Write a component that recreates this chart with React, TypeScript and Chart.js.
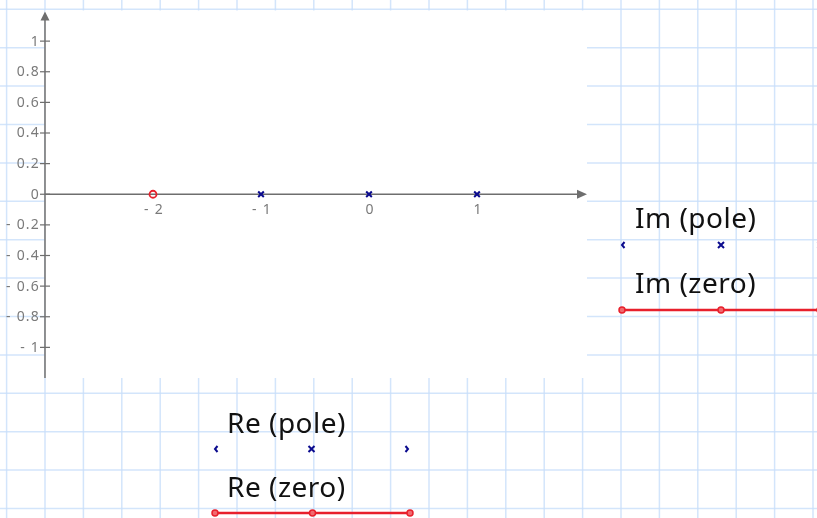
import React, { useEffect, useRef } from "react";
import { Chart, registerables } from "chart.js";

Chart.register(...registerables);

// ---- data ----
const poleRe = [-1, 0, 1];
const poleIm = [0, 0, 0];
const zeroRe = [-2];
const zeroIm = [0];
const xTickValues = [-2, -1, 0, 1];
const yTickValues = [-1, -0.8, -0.6, -0.4, -0.2, 0, 0.2, 0.4, 0.6, 0.8, 1];
const legendLabels = ["Im (pole)", "Im (zero)", "Re (pole)", "Re (zero)"];

const POLE_COLOR = "#0b0b8e";
const ZERO_COLOR = "#e8202c";
const AXIS_COLOR = "#6e6e6e";
const LABEL_COLOR = "#7a7a7a";
const GRID_COLOR = "rgba(200,222,250,0.8)";

const fmt = (v: number) => {
  const r = Math.round(v * 10) / 10;
  if (r === 0) return "0";
  const s = String(Math.abs(r));
  return r < 0 ? "- " + s : s;
};

const W = 817;
const H = 518;

const decorPlugin = {
  id: "decor",
  beforeDraw(chart: any) {
    const { ctx, chartArea } = chart;
    ctx.save();
    ctx.fillStyle = "#ffffff";
    ctx.fillRect(0, 0, W, H);
    // background paper grid
    ctx.strokeStyle = GRID_COLOR;
    ctx.lineWidth = 1.5;
    const step = 38.4;
    for (let x = 6.6; x < W + 1; x += step) {
      ctx.beginPath();
      ctx.moveTo(x, 0);
      ctx.lineTo(x, H);
      ctx.stroke();
    }
    for (let y = 9.3; y < H + 1; y += step) {
      ctx.beginPath();
      ctx.moveTo(0, y);
      ctx.lineTo(W, y);
      ctx.stroke();
    }
    // white plot panel
    ctx.fillStyle = "#ffffff";
    ctx.fillRect(chartArea.left, chartArea.top, chartArea.right - chartArea.left + 2, chartArea.bottom - chartArea.top);
    ctx.restore();
  },
  beforeDatasetsDraw(chart: any) {
    const { ctx, chartArea, scales } = chart;
    const xs = scales.x;
    const ys = scales.y;
    const x0 = xs.getPixelForValue(xs.min);
    const y0 = ys.getPixelForValue(0);
    ctx.save();
    ctx.strokeStyle = AXIS_COLOR;
    ctx.fillStyle = AXIS_COLOR;
    ctx.lineWidth = 1.5;
    // y axis
    ctx.beginPath();
    ctx.moveTo(x0, chartArea.bottom);
    ctx.lineTo(x0, chartArea.top + 8);
    ctx.stroke();
    ctx.beginPath();
    ctx.moveTo(x0, chartArea.top + 1);
    ctx.lineTo(x0 - 4.5, chartArea.top + 10);
    ctx.lineTo(x0 + 4.5, chartArea.top + 10);
    ctx.closePath();
    ctx.fill();
    // x axis
    const xr = chartArea.right + 2;
    ctx.beginPath();
    ctx.moveTo(x0, y0);
    ctx.lineTo(xr - 8, y0);
    ctx.stroke();
    ctx.beginPath();
    ctx.moveTo(xr, y0);
    ctx.lineTo(xr - 10, y0 - 4.5);
    ctx.lineTo(xr - 10, y0 + 4.5);
    ctx.closePath();
    ctx.fill();
    // y ticks + labels
    ctx.font = "14px 'Noto Sans', sans-serif";
    (ctx as any).letterSpacing = "1.2px";
    ctx.fillStyle = LABEL_COLOR;
    ctx.textAlign = "right";
    ctx.textBaseline = "middle";
    ctx.lineWidth = 1.2;
    for (const v of yTickValues) {
      const py = ys.getPixelForValue(v);
      ctx.beginPath();
      ctx.moveTo(x0 - 5, py);
      ctx.lineTo(x0 + 5, py);
      ctx.stroke();
      ctx.fillText(fmt(v), x0 - 5, py + 0.5);
    }
    // x labels
    ctx.textAlign = "center";
    ctx.textBaseline = "middle";
    for (const v of xTickValues) {
      const px = xs.getPixelForValue(v);
      ctx.fillText(fmt(v), px + 1, y0 + 16);
    }
    (ctx as any).letterSpacing = "0px";
    ctx.restore();
  },
  afterDraw(chart: any) {
    const { ctx } = chart;
    ctx.save();
    ctx.font = "28px 'Noto Sans', sans-serif";
    (ctx as any).letterSpacing = "0.5px";
    ctx.fillStyle = "#111111";
    ctx.textAlign = "left";
    ctx.textBaseline = "alphabetic";

    const drawPoleSample = (xa: number, xb: number, y: number) => {
      ctx.strokeStyle = POLE_COLOR;
      ctx.lineWidth = 2;
      const xm = (xa + xb) / 2;
      ctx.beginPath();
      ctx.moveTo(xa + 2.5, y - 3);
      ctx.lineTo(xa, y);
      ctx.lineTo(xa + 2.5, y + 3);
      ctx.stroke();
      ctx.beginPath();
      ctx.moveTo(xb - 2.5, y - 3);
      ctx.lineTo(xb, y);
      ctx.lineTo(xb - 2.5, y + 3);
      ctx.stroke();
      ctx.beginPath();
      ctx.moveTo(xm - 3, y - 3);
      ctx.lineTo(xm + 3, y + 3);
      ctx.moveTo(xm + 3, y - 3);
      ctx.lineTo(xm - 3, y + 3);
      ctx.stroke();
    };
    const drawZeroSample = (xa: number, xb: number, y: number) => {
      ctx.strokeStyle = ZERO_COLOR;
      ctx.lineWidth = 2.5;
      ctx.beginPath();
      ctx.moveTo(xa, y);
      ctx.lineTo(xb, y);
      ctx.stroke();
      ctx.lineWidth = 1.5;
      for (const px of [xa, (xa + xb) / 2, xb]) {
        ctx.beginPath();
        ctx.arc(px, y, 3, 0, Math.PI * 2);
        ctx.fillStyle = "#f06a70";
        ctx.fill();
        ctx.stroke();
      }
      ctx.fillStyle = "#111111";
    };

    ctx.fillText(legendLabels[0], 635, 228);
    drawPoleSample(622, 820, 245);
    ctx.fillStyle = "#111111";
    ctx.fillText(legendLabels[1], 635, 293);
    drawZeroSample(622, 820, 310);
    ctx.fillStyle = "#111111";
    ctx.fillText(legendLabels[2], 227, 433);
    drawPoleSample(215, 408, 449);
    ctx.fillStyle = "#111111";
    ctx.fillText(legendLabels[3], 227, 497);
    drawZeroSample(215, 410, 513);
    (ctx as any).letterSpacing = "0px";
    ctx.restore();
  },
};

export default function App() {
  const ref = useRef<HTMLCanvasElement | null>(null);
  useEffect(() => {
    if (!ref.current) return;
    const chart = new Chart(ref.current, {
      type: "scatter",
      data: {
        datasets: [
          {
            label: "pole",
            data: poleRe.map((r, i) => ({ x: r, y: poleIm[i] })),
            pointStyle: "crossRot",
            pointRadius: 4,
            borderWidth: 2,
            borderColor: POLE_COLOR,
            backgroundColor: POLE_COLOR,
          },
          {
            label: "zero",
            data: zeroRe.map((r, i) => ({ x: r, y: zeroIm[i] })),
            pointStyle: "circle",
            pointRadius: 3.5,
            borderWidth: 1.8,
            borderColor: ZERO_COLOR,
            backgroundColor: "rgba(0,0,0,0)",
          },
        ],
      },
      options: {
        responsive: false,
        animation: false,
        layout: { padding: { left: 45, top: 10.5, right: 232, bottom: 140 } },
        plugins: { legend: { display: false }, tooltip: { enabled: false } },
        scales: {
          x: { type: "linear", min: -3, max: 2, display: false },
          y: { type: "linear", min: -1.2, max: 1.2, display: false },
        },
      },
      plugins: [decorPlugin],
    });
    return () => chart.destroy();
  }, []);
  return (
    <div style={{ position: "fixed", left: 0, top: 0, width: W, height: H }}>
      <canvas ref={ref} width={W} height={H} style={{ width: W, height: H, display: "block" }} />
    </div>
  );
}
